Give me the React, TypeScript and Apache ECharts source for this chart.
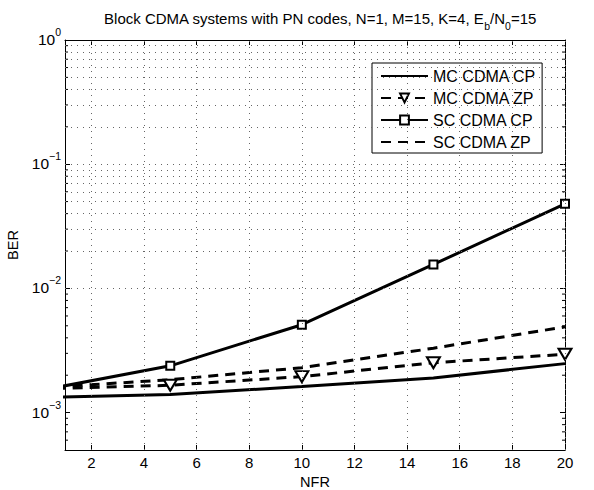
import React, { useEffect, useRef } from "react";
import * as echarts from "echarts";

// NFR values (the curves start at NFR = 0, the x range is clipped at 1)
const nfr = [0, 5, 10, 15, 20];
const mcCdmaCP = [1.32e-3, 1.4e-3, 1.62e-3, 1.9e-3, 2.48e-3];
const mcCdmaZP = [1.55e-3, 1.66e-3, 1.95e-3, 2.52e-3, 2.95e-3];
const scCdmaCP = [1.5e-3, 2.38e-3, 5.1e-3, 1.56e-2, 4.8e-2];
const scCdmaZP = [1.58e-3, 1.84e-3, 2.3e-3, 3.3e-3, 4.9e-3];

const xTicks = [2, 4, 6, 8, 10, 12, 14, 16, 18, 20];
const yDecades = [1e-3, 1e-2, 1e-1];
const yMinor = [
  6e-4, 7e-4, 8e-4, 9e-4,
  2e-3, 3e-3, 4e-3, 5e-3, 6e-3, 7e-3, 8e-3, 9e-3,
  2e-2, 3e-2, 4e-2, 5e-2, 6e-2, 7e-2, 8e-2, 9e-2,
  0.2, 0.3, 0.4, 0.5, 0.6, 0.7, 0.8, 0.9,
];

const FONT = "'Liberation Sans', Arial, Helvetica, sans-serif";
const FS = 15;

const pairs = (xs: number[], ys: number[]) => xs.map((x, i) => [x, ys[i]]);

export default function App() {
  const ref = useRef<HTMLDivElement>(null);

  useEffect(() => {
    if (!ref.current) return;
    const chart = echarts.init(ref.current, undefined, { renderer: "svg" });

    const yLabel = (v: number) => {
      const e = Math.log10(v);
      const r = Math.round(e);
      if (Math.abs(e - r) > 1e-6) return "";
      return `{b|10}{s|${r < 0 ? "\u2212" + -r : r}}`;
    };

    const gridStyle = { type: [1, 5] as any, color: "#666", width: 1 };
    const hidden = { opacity: 0 };

    const option: any = {
      animation: false,
      backgroundColor: "#fff",
      textStyle: { fontFamily: FONT },
      title: {
        text: "Block CDMA systems with PN codes, N=1, M=15, K=4, E{sub|b}/N{sub|0}=15",
        left: 315,
        textAlign: "center",
        top: 6,
        textStyle: {
          fontFamily: FONT,
          fontSize: 15,
          fontWeight: "normal",
          color: "#000",
          rich: {
            sub: {
              fontFamily: FONT,
              fontSize: 10.5,
              color: "#000",
              verticalAlign: "top",
              lineHeight: 11,
              padding: [9, 0, 0, 0],
            },
          },
        },
      },
      legend: {
        orient: "vertical",
        left: 372,
        top: 63,
        padding: [5, 6, 3, 8],
        itemWidth: 47,
        itemHeight: 11,
        itemGap: 6,
        backgroundColor: "#fff",
        borderColor: "#000",
        borderWidth: 1,
        borderRadius: 0,
        data: [
          { name: "MC CDMA CP", itemStyle: hidden },
          { name: "MC CDMA ZP" },
          { name: "SC CDMA CP" },
          { name: "SC CDMA ZP", itemStyle: hidden },
        ],
        textStyle: { fontFamily: FONT, fontSize: 16, color: "#000" },
      },
      grid: { left: 65, right: 29, top: 40, bottom: 40, outerBoundsMode: "none", containLabel: false },
      xAxis: [
        {
          type: "value",
          min: 1,
          max: 20,
          name: "NFR",
          nameLocation: "middle",
          nameGap: 20,
          nameTextStyle: { fontFamily: FONT, fontSize: 14.5, color: "#000", lineHeight: 15 },
          axisLine: { show: true, lineStyle: { color: "#000", width: 1 } },
          axisTick: { show: true, inside: true, length: 5, customValues: xTicks, lineStyle: { color: "#000" } },
          axisLabel: { customValues: xTicks, fontFamily: FONT, fontSize: FS, color: "#000", margin: 5 },
          splitLine: { show: false },
        },
        {
          type: "value",
          position: "top",
          min: 1,
          max: 20,
          axisLine: { show: true, onZero: false, lineStyle: { color: "#000", width: 1 } },
          axisTick: { show: true, inside: true, length: 5, customValues: xTicks, lineStyle: { color: "#000" } },
          axisLabel: { show: false },
          splitLine: { show: false },
        },
      ],
      yAxis: [
        {
          type: "log",
          logBase: 10,
          min: 5e-4,
          max: 1,
          name: "BER",
          nameLocation: "middle",
          nameGap: 38,
          nameTextStyle: { fontFamily: FONT, fontSize: 14.5, color: "#000" },
          axisLine: { show: true, lineStyle: { color: "#000", width: 1 } },
          axisTick: { show: true, inside: true, length: 5, lineStyle: { color: "#000" } },
          axisLabel: {
            formatter: yLabel,
            margin: 4,
            rich: {
              b: { fontFamily: FONT, fontSize: 15.5, color: "#000", lineHeight: 15, verticalAlign: "bottom" },
              s: {
                fontFamily: FONT,
                fontSize: 10.5,
                color: "#000",
                lineHeight: 11,
                verticalAlign: "bottom",
                padding: [0, 0, 10, 0],
              },
            },
          },
          splitLine: { show: false },
        },
        {
          type: "log",
          logBase: 10,
          min: 5e-4,
          max: 1,
          position: "right",
          axisLine: { show: true, onZero: false, lineStyle: { color: "#000", width: 1 } },
          axisTick: { show: true, inside: true, length: 5, lineStyle: { color: "#000" } },
          axisLabel: { show: false },
          splitLine: { show: false },
        },
      ],
      series: [
        {
          name: "_grid",
          type: "line",
          data: [],
          silent: true,
          z: 0,
          markLine: {
            silent: true,
            symbol: ["none", "none"],
            label: { show: false },
            lineStyle: gridStyle,
            emphasis: { disabled: true },
            data: [
              ...xTicks.map((v) => ({ xAxis: v })),
              ...yDecades.map((v) => ({ yAxis: v })),
              ...yMinor.map((v) => ({ yAxis: v })),
            ],
          },
        },
        {
          name: "_minorTicks",
          type: "custom",
          silent: true,
          z: 1,
          data: yMinor.map((v) => [1, v]),
          renderItem: (params: any, api: any) => {
            const cs = params.coordSys;
            const y = api.coord([1, api.value(1)])[1];
            return {
              type: "group",
              children: [
                { type: "line", shape: { x1: cs.x, y1: y, x2: cs.x + 3, y2: y }, style: { stroke: "#000", lineWidth: 1 } },
                {
                  type: "line",
                  shape: { x1: cs.x + cs.width - 3, y1: y, x2: cs.x + cs.width, y2: y },
                  style: { stroke: "#000", lineWidth: 1 },
                },
              ],
            };
          },
        },
        {
          name: "MC CDMA CP",
          type: "line",
          data: pairs(nfr, mcCdmaCP),
          symbol: "none",
          clip: true,
          z: 3,
          lineStyle: { color: "#000", width: 3 },
          itemStyle: { color: "#000" },
        },
        {
          name: "MC CDMA ZP",
          type: "line",
          data: pairs(nfr, mcCdmaZP),
          symbol: "triangle",
          symbolRotate: 180,
          symbolSize: [13, 11],
          clip: true,
          z: 3,
          lineStyle: { color: "#000", width: 3, type: [10, 7] },
          itemStyle: { color: "#fff", borderColor: "#000", borderWidth: 2 },
        },
        {
          name: "SC CDMA CP",
          type: "line",
          data: pairs(nfr, scCdmaCP),
          symbol: "rect",
          symbolSize: 8,
          clip: true,
          z: 3,
          lineStyle: { color: "#000", width: 3 },
          itemStyle: { color: "#fff", borderColor: "#000", borderWidth: 2 },
        },
        {
          name: "SC CDMA ZP",
          type: "line",
          data: pairs(nfr, scCdmaZP),
          symbol: "none",
          clip: true,
          z: 3,
          lineStyle: { color: "#000", width: 3, type: [10, 7] },
          itemStyle: { color: "#000" },
        },
      ],
    };

    chart.setOption(option);
    return () => chart.dispose();
  }, []);

  return (
    <div
      ref={ref}
      style={{ position: "fixed", left: 0, top: 0, width: 594, height: 490, background: "#fff" }}
    />
  );
}
